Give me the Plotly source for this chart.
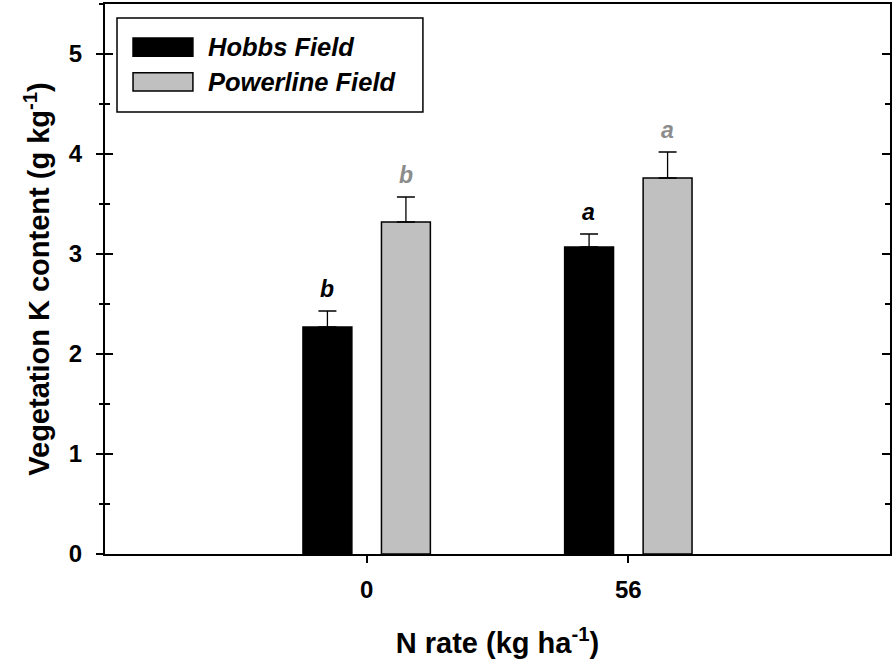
import plotly.graph_objects as go

categories = ["0", "56"]
hobbs_values = [2.27, 3.07]
hobbs_err = [0.16, 0.13]
powerline_values = [3.32, 3.76]
powerline_err = [0.25, 0.26]
hobbs_letters = ["b", "a"]
powerline_letters = ["b", "a"]
series_names = ["Hobbs Field", "Powerline Field"]
y_tickvals = [0, 1, 2, 3, 4, 5]

FONT = "Liberation Sans, Arial, sans-serif"
HOBBS_COLOR = "#000000"
POWER_COLOR = "#c0c0c0"
POWER_LETTER_COLOR = "#8c8c8c"

fig = go.Figure()
fig.add_trace(go.Bar(
    x=categories, y=hobbs_values, name=series_names[0],
    marker=dict(color=HOBBS_COLOR, line=dict(color="black", width=1.5)),
    error_y=dict(type="data", array=hobbs_err, arrayminus=[0, 0], symmetric=False,
                 color="black", thickness=1.3, width=9),
    showlegend=False,
))
fig.add_trace(go.Bar(
    x=categories, y=powerline_values, name=series_names[1],
    marker=dict(color=POWER_COLOR, line=dict(color="black", width=1.5)),
    error_y=dict(type="data", array=powerline_err, arrayminus=[0, 0], symmetric=False,
                 color="black", thickness=1.3, width=9),
    showlegend=False,
))

# significance letters (x given as category index)
for i, c in enumerate(categories):
    fig.add_annotation(x=i, y=hobbs_values[i] + hobbs_err[i], xref="x", yref="y",
                       text="<b><i>%s</i></b>" % hobbs_letters[i], showarrow=False,
                       xshift=-39.5, yanchor="bottom", yshift=7,
                       font=dict(family=FONT, size=23, color=HOBBS_COLOR))
    fig.add_annotation(x=i, y=powerline_values[i] + powerline_err[i], xref="x", yref="y",
                       text="<b><i>%s</i></b>" % powerline_letters[i], showarrow=False,
                       xshift=39.5, yanchor="bottom", yshift=7,
                       font=dict(family=FONT, size=23, color=POWER_LETTER_COLOR))

# legend drawn manually (large swatches like the original)
fig.add_shape(type="rect", xref="paper", yref="paper", x0=0.0153, x1=0.405, y0=0.8036, y1=0.9745,
              line=dict(color="black", width=1.5), fillcolor="white")
legend_rows = [(0.938, 0.905, HOBBS_COLOR, series_names[0]), (0.875, 0.842, POWER_COLOR, series_names[1])]
for y1, y0, col, name in legend_rows:
    fig.add_shape(type="rect", xref="paper", yref="paper", x0=0.0357, x1=0.112, y0=y0, y1=y1,
                  line=dict(color="black", width=1.5), fillcolor=col)
    fig.add_annotation(xref="paper", yref="paper", x=0.129, y=(y0 + y1) / 2, xanchor="left",
                       yanchor="middle", showarrow=False, text="<b><i>%s</i></b>" % name,
                       font=dict(family=FONT, size=25.5, color="black"))

fig.update_layout(
    width=894, height=661,
    margin=dict(l=105, r=4, t=4, b=107),
    paper_bgcolor="white", plot_bgcolor="white",
    barmode="group", bargap=0.4, bargroupgap=0.377,
    font=dict(family=FONT, color="black"),
    xaxis=dict(
        type="category", range=[-1, 2], showgrid=False, zeroline=False, automargin=False,
        showline=True, linecolor="black", linewidth=2, mirror=True,
        tickvals=categories, ticktext=["<b>%s</b>" % c for c in categories],
        ticks="outside", ticklen=7, tickwidth=1.5, tickcolor="black", ticklabelstandoff=6,
        tickfont=dict(family=FONT, size=24, color="black"),
        title=dict(text="<b>N rate (kg ha<sup>-1</sup>)</b>", standoff=31,
                   font=dict(family=FONT, size=29, color="black")),
    ),
    yaxis=dict(
        range=[0, 5.5], showgrid=False, zeroline=False, automargin=False,
        showline=True, linecolor="black", linewidth=2, mirror="ticks",
        tickvals=y_tickvals, ticks="inside", ticklen=8, tickwidth=1.5, tickcolor="black",
        minor=dict(dtick=0.5, ticks="inside", ticklen=5, tickwidth=1.5, tickcolor="black"),
        showticklabels=False,
    ),
    yaxis2=dict(
        overlaying="y", side="left", range=[0, 5.5], showgrid=False, zeroline=False,
        automargin=False,
        showline=False, tickvals=y_tickvals, ticks="outside", ticklen=8, tickwidth=1.5,
        tickcolor="black", ticklabelstandoff=9,
        minor=dict(dtick=0.5, ticks="outside", ticklen=5, tickwidth=1.5, tickcolor="black"),
        tickfont=dict(family=FONT, size=24, color="black"),
        ticktext=["<b>%d</b>" % v for v in y_tickvals],
        title=dict(text="<b>Vegetation K content (g kg<sup>-1</sup>)</b>", standoff=10,
                   font=dict(family=FONT, size=29, color="black")),
    ),
)
fig.add_trace(go.Scatter(x=categories, y=[None, None], yaxis="y2", showlegend=False,
                         hoverinfo="skip"))

fig.write_html("out.html", config={"displayModeBar": False},
               post_script="document.body.style.margin='0';")
